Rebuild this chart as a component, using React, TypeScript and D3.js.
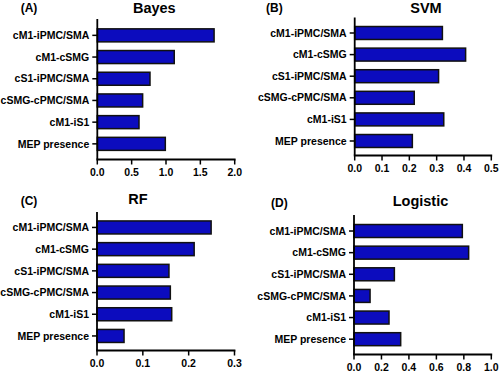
import React from "react";
import * as d3 from "d3";

const categories = [
  "cM1-iPMC/SMA",
  "cM1-cSMG",
  "cS1-iPMC/SMA",
  "cSMG-cPMC/SMA",
  "cM1-iS1",
  "MEP presence",
];
const bayesValues = [1.7, 1.12, 0.767, 0.66, 0.607, 0.99];
const svmValues = [0.321, 0.406, 0.307, 0.218, 0.326, 0.211];
const rfValues = [0.249, 0.212, 0.157, 0.16, 0.163, 0.059];
const logisticValues = [0.789, 0.835, 0.294, 0.117, 0.255, 0.34];

const bayesTicks = [0, 0.5, 1.0, 1.5, 2.0];
const svmTicks = [0, 0.1, 0.2, 0.3, 0.4, 0.5];
const rfTicks = [0, 0.1, 0.2, 0.3];
const logisticTicks = [0, 0.2, 0.4, 0.6, 0.8, 1.0];

const FONT = "'Liberation Sans', Arial, Helvetica, sans-serif";
const BAR = "#0c0cbe";

type PanelProps = {
  tag: string;
  title: string;
  values: number[];
  ticks: number[];
  x0: number;
  x1: number;
  axisTop: number;
  axisY: number;
  bandTop: number;
  bandBottom: number;
  titleX: number;
  titleY: number;
  tagX: number;
  tagY: number;
};

function Panel(p: PanelProps) {
  const max = p.ticks[p.ticks.length - 1];
  const x = d3.scaleLinear().domain([0, max]).range([p.x0, p.x1]);
  const y = d3
    .scaleBand<string>()
    .domain(categories)
    .range([p.bandTop, p.bandBottom])
    .paddingInner(0.4)
    .paddingOuter(0.2);
  return (
    <g>
      <text x={p.tagX} y={p.tagY} fontFamily={FONT} fontWeight="bold" fontSize={12}>
        {p.tag}
      </text>
      <text
        x={p.titleX}
        y={p.titleY}
        textAnchor="middle"
        fontFamily={FONT}
        fontWeight="bold"
        fontSize={14.5}
      >
        {p.title}
      </text>
      {categories.map((c, i) => (
        <rect
          key={c}
          x={x(0)}
          y={y(c)!}
          width={x(p.values[i]) - x(0)}
          height={y.bandwidth()}
          fill={BAR}
          stroke="#111"
          strokeWidth={1.5}
        />
      ))}
      <line x1={p.x0} x2={p.x0} y1={p.axisTop} y2={p.axisY} stroke="#000" strokeWidth={1.8} />
      <line x1={p.x0 - 0.9} x2={p.x1 + 0.9} y1={p.axisY} y2={p.axisY} stroke="#000" strokeWidth={1.8} />
      {categories.map((c) => {
        const cy = y(c)! + y.bandwidth() / 2;
        return (
          <g key={c}>
            <line x1={p.x0 - 5} x2={p.x0} y1={cy} y2={cy} stroke="#000" strokeWidth={1.5} />
            <text
              x={p.x0 - 8}
              y={cy}
              dy="0.35em"
              textAnchor="end"
              fontFamily={FONT}
              fontWeight="bold"
              fontSize={10.5}
            >
              {c}
            </text>
          </g>
        );
      })}
      {p.ticks.map((t) => (
        <g key={t}>
          <line x1={x(t)} x2={x(t)} y1={p.axisY} y2={p.axisY + 5} stroke="#000" strokeWidth={1.5} />
          <text
            x={x(t)}
            y={p.axisY + 16}
            textAnchor="middle"
            fontFamily={FONT}
            fontWeight="bold"
            fontSize={10.5}
          >
            {t.toFixed(1)}
          </text>
        </g>
      ))}
    </g>
  );
}

export default function App() {
  return (
    <svg
      width={500}
      height={373}
      style={{ position: "absolute", left: 0, top: 0, background: "#fff" }}
    >
      <rect width={500} height={373} fill="#fff" />
      <Panel
        tag="(A)"
        title="Bayes"
        values={bayesValues}
        ticks={bayesTicks}
        x0={97.3}
        x1={234.7}
        axisTop={19}
        axisY={159.5}
        bandTop={24.5}
        bandBottom={154.7}
        titleX={154.3}
        titleY={12.5}
        tagX={20.7}
        tagY={12}
      />
      <Panel
        tag="(B)"
        title="SVM"
        values={svmValues}
        ticks={svmTicks}
        x0={354.7}
        x1={491.3}
        axisTop={17.5}
        axisY={155.5}
        bandTop={22.2}
        bandBottom={151.8}
        titleX={426}
        titleY={13.3}
        tagX={266}
        tagY={12}
      />
      <Panel
        tag="(C)"
        title="RF"
        values={rfValues}
        ticks={rfTicks}
        x0={97}
        x1={234.5}
        axisTop={212}
        axisY={350.5}
        bandTop={216.6}
        bandBottom={346.8}
        titleX={138}
        titleY={204.3}
        tagX={20.7}
        tagY={205}
      />
      <Panel
        tag="(D)"
        title="Logistic"
        values={logisticValues}
        ticks={logisticTicks}
        x0={354}
        x1={491.3}
        axisTop={215}
        axisY={354.5}
        bandTop={220.2}
        bandBottom={350}
        titleX={420.5}
        titleY={206}
        tagX={271}
        tagY={207}
      />
    </svg>
  );
}
